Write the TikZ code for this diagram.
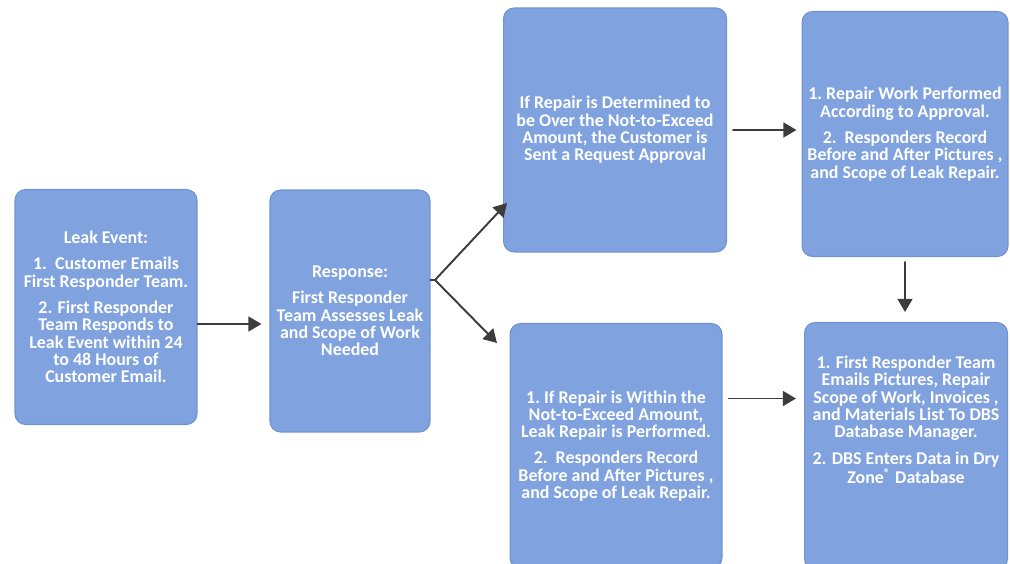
\documentclass[tikz,border=0pt]{standalone}
\usepackage{fontspec}
\setmainfont{Carlito}
\usetikzlibrary{arrows.meta}

\definecolor{boxblue}{RGB}{128,162,222}
\definecolor{boxedge}{RGB}{112,146,208}
\definecolor{arrowgray}{RGB}{60,60,60}

\tikzset{
  stepbox/.style={draw=boxedge,line width=0.6pt,fill=boxblue,rounded corners=6pt,
    text=white,align=center,font=\bfseries\fontsize{10.2}{9.9}\selectfont,inner sep=1pt},
  flow/.style={draw=arrowgray,line width=1.1pt,-{Triangle[length=7.5pt,width=8.5pt]}}
}

\begin{document}
\begin{tikzpicture}[x=0.02cm,y=-0.02cm,line cap=round,line join=round]
\useasboundingbox (0,0) rectangle (1010,564);
% boxes
\node[stepbox,minimum width=3.64cm,minimum height=4.7cm] (leak) at (106,307) {Leak Event:\\[5pt]
1.\ \ Customer Emails\\First Responder Team.\\[5pt]
2. First Responder\\Team Responds to\\Leak Event within 24\\to 48 Hours of\\Customer Email.};
\node[stepbox,minimum width=3.2cm,minimum height=4.84cm] (resp) at (350,311) {Response:\\[5pt]
First Responder\\Team Assesses Leak\\and Scope of Work\\Needed};
\node[stepbox,minimum width=4.46cm,minimum height=4.88cm] (over) at (615,130) {If Repair is Determined to\\be Over the Not-to-Exceed\\Amount, the Customer is\\Sent a Request Approval};
\node[stepbox,minimum width=4.12cm,minimum height=4.9cm] (done) at (905,134) {1.\ Repair Work Performed\\According to Approval.\\[5pt]
2.\ \ Responders Record\\Before and After Pictures ,\\and Scope of Leak Repair.};
\node[stepbox,minimum width=4.24cm,minimum height=4.9cm] (within) at (616,446) {1.\ If Repair is Within the\\Not-to-Exceed Amount,\\Leak Repair is Performed.\\[5pt]
2.\ \ Responders Record\\Before and After Pictures ,\\and Scope of Leak Repair.};
\node[stepbox,minimum width=4.06cm,minimum height=4.94cm] (report) at (906,446) {1. First Responder Team\\Emails Pictures, Repair\\Scope of Work, Invoices ,\\and Materials List To DBS\\Database Manager.\\[5pt]
2. DBS Enters Data in Dry\\Zone\textsuperscript{®} Database\\[20pt]};
% connectors
\coordinate (fork) at (435,280);
\coordinate (uptip) at (507,203);
\coordinate (downtip) at (497,343);
\draw[flow] ([yshift=-0.34cm]leak.east) -- ([yshift=-0.34cm,xshift=-0.16cm]leak.east -| resp.west);
\draw[arrowgray,line width=1.1pt] ([yshift=0.62cm]resp.east) -- (fork);
\draw[flow] (fork) -- (uptip);
\draw[flow] (fork) -- (downtip);
\draw[flow] ([xshift=0.12cm]over.east) -- ([xshift=-0.1cm]over.east -| done.west);
\draw[flow] ([yshift=-0.1cm]done.south) -- ([yshift=0.2cm]done.south |- report.north);
\draw[flow] ([xshift=0.12cm,yshift=0.95cm]within.east) -- ([xshift=-0.16cm,yshift=0.95cm]within.east -| report.west);
\end{tikzpicture}
\end{document}
